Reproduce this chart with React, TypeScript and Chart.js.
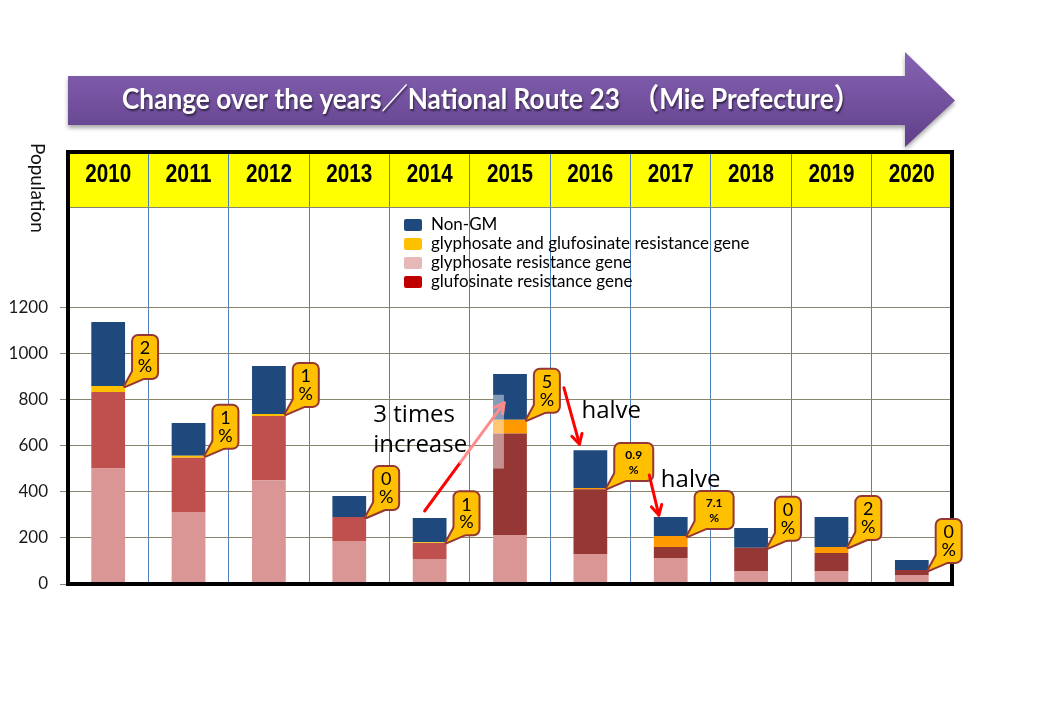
import React, { useEffect, useRef } from 'react';
import { Chart, registerables } from 'chart.js';

Chart.register(...registerables);

// ---------- data ----------
const years = ['2010', '2011', '2012', '2013', '2014', '2015', '2016', '2017', '2018', '2019', '2020'];
const glyphosateResistant = [500, 312, 450, 186, 108, 212, 130, 113, 56, 56, 39];
const glufosinateResistant = [332, 235, 278, 104, 70, 440, 281, 47, 101, 78, 22];
const bothResistant = [26, 9, 9, 0, 3, 60, 5, 48, 0, 26, 0];
const nonGM = [277, 142, 208, 91, 105, 198, 164, 82, 86, 130, 43];
const bothPercentLabels = ['2', '1', '1', '0', '1', '5', '0.9', '7.1', '0', '2', '0'];
const yTickValues = [0, 200, 400, 600, 800, 1000, 1200];
const legendLabels = [
  'Non-GM',
  'glyphosate and glufosinate resistance gene',
  'glyphosate resistance gene',
  'glufosinate resistance gene',
];
const titleText = 'Change over the years／National Route 23　（Mie Prefecture）';
const yAxisTitle = 'Population';
const increaseText = ['3 times', 'increase'];
const halveText = 'halve';
const ghostRange = [500, 820]; // faded overlay on 2015 bar (value range)

// ---------- styles ----------
const FONT = 'Lato, "Open Sans", "Noto Sans", sans-serif';
const NAVY = '#1f497d';
const PINK = '#d99694';
const RED_A = '#c0504d';
const RED_B = '#953735';
const YEL_A = '#ffc000';
const ORG_B = '#ff9900';
const legendColors = [NAVY, '#ffc000', '#e6b9b8', '#c00000'];

function drawArrowHead(ctx: CanvasRenderingContext2D, x1: number, y1: number, x2: number, y2: number, color: string) {
  const a = Math.atan2(y2 - y1, x2 - x1);
  const L = 11;
  const s = 0.5;
  ctx.strokeStyle = color;
  ctx.beginPath();
  ctx.moveTo(x2 - L * Math.cos(a - s), y2 - L * Math.sin(a - s));
  ctx.lineTo(x2, y2);
  ctx.lineTo(x2 - L * Math.cos(a + s), y2 - L * Math.sin(a + s));
  ctx.stroke();
}

export default function App() {
  const ref = useRef<HTMLCanvasElement>(null);

  useEffect(() => {
    const canvas = ref.current;
    if (!canvas) return;

    const decor = {
      id: 'decor',
      beforeDraw(chart: any) {
        const ctx: CanvasRenderingContext2D = chart.ctx;
        const ca = chart.chartArea;
        ctx.save();
        ctx.fillStyle = '#ffffff';
        ctx.fillRect(0, 0, chart.width, chart.height);

        // Title arrow
        const bodyTop = ca.top - 76;
        const bodyBot = ca.top - 27;
        const headBase = ca.right - 47;
        const tipX = ca.right + 3;
        const midY = (bodyTop + bodyBot) / 2;
        const grad = ctx.createLinearGradient(0, ca.top - 100, 0, ca.top - 5);
        grad.addColorStop(0, '#8563b2');
        grad.addColorStop(0.5, '#7452a0');
        grad.addColorStop(1, '#5f3f88');
        ctx.shadowColor = 'rgba(0,0,0,0.35)';
        ctx.shadowBlur = 4;
        ctx.shadowOffsetY = 3;
        ctx.fillStyle = grad;
        ctx.beginPath();
        ctx.moveTo(ca.left, bodyTop);
        ctx.lineTo(headBase, bodyTop);
        ctx.lineTo(headBase, ca.top - 100);
        ctx.lineTo(tipX, midY);
        ctx.lineTo(headBase, ca.top - 5);
        ctx.lineTo(headBase, bodyBot);
        ctx.lineTo(ca.left, bodyBot);
        ctx.closePath();
        ctx.fill();

        // Title text
        ctx.font = `bold 29px "Liberation Sans Narrow", ${FONT}, "Noto Sans CJK JP"`;
        const tw = ctx.measureText(titleText).width;
        const target = 738;
        ctx.shadowColor = 'rgba(0,0,0,0.55)';
        ctx.shadowBlur = 2;
        ctx.shadowOffsetX = 1;
        ctx.shadowOffsetY = 2;
        ctx.fillStyle = '#ffffff';
        ctx.textAlign = 'left';
        ctx.textBaseline = 'alphabetic';
        ctx.translate(ca.left + 54, ca.top - 43);
        ctx.scale(target / tw, 1);
        ctx.fillText(titleText, 0, 0);
        ctx.restore();

        // Yellow header band
        ctx.save();
        ctx.fillStyle = '#ffff00';
        ctx.fillRect(ca.left, ca.top, ca.width, 55);
        // y-axis title (rotated clockwise)
        ctx.translate(ca.left - 31, ca.top - 9);
        ctx.rotate(Math.PI / 2);
        ctx.font = `19px ${FONT}`;
        ctx.fillStyle = '#111';
        ctx.textAlign = 'left';
        ctx.textBaseline = 'middle';
        ctx.fillText(yAxisTitle, 0, 0);
        ctx.restore();
      },
      beforeDatasetsDraw(chart: any) {
        const ctx: CanvasRenderingContext2D = chart.ctx;
        const ca = chart.chartArea;
        const xs = chart.scales.x;
        ctx.save();
        ctx.strokeStyle = '#86866e';
        ctx.lineWidth = 1;
        ctx.beginPath();
        ctx.moveTo(ca.left, ca.top + 55.5);
        ctx.lineTo(ca.right, ca.top + 55.5);
        ctx.stroke();
        ctx.font = `bold 25px "Liberation Sans Narrow", "Liberation Sans", Arial`;
        ctx.fillStyle = '#000';
        ctx.textAlign = 'center';
        ctx.textBaseline = 'middle';
        years.forEach((yr, i) => {
          const x = xs.getPixelForValue(i);
          const w = ctx.measureText(yr).width;
          ctx.save();
          ctx.translate(x, ca.top + 23);
          ctx.scale(46 / w, 1);
          ctx.fillText(yr, 0, 0);
          ctx.restore();
        });
        ctx.restore();
      },
      afterDatasetsDraw(chart: any) {
        const ctx: CanvasRenderingContext2D = chart.ctx;
        const ca = chart.chartArea;
        const ys = chart.scales.y;
        const barsBottom = chart.getDatasetMeta(0).data;
        const totals = years.map((_, i) => glyphosateResistant[i] + glufosinateResistant[i] + bothResistant[i] + nonGM[i]);
        ctx.save();

        // Ghost overlay on the 2015 bar
        {
          const b = barsBottom[5];
          const left = b.x - b.width / 2;
          const t = ys.getPixelForValue(ghostRange[1]);
          const bt = ys.getPixelForValue(ghostRange[0]);
          ctx.fillStyle = 'rgba(255,255,255,0.45)';
          ctx.fillRect(left, t, b.width * 0.32, bt - t);
        }

        // Frame
        ctx.strokeStyle = '#000';
        ctx.lineWidth = 4;
        ctx.strokeRect(ca.left, ca.top, ca.right - ca.left, ca.bottom - ca.top);

        // Legend
        ctx.font = `17px ${FONT}`;
        ctx.textAlign = 'left';
        ctx.textBaseline = 'middle';
        legendLabels.forEach((lab, i) => {
          const lx = ca.left + 336;
          const ly = ca.top + 73 + i * 19;
          ctx.fillStyle = legendColors[i];
          ctx.beginPath();
          ctx.roundRect(lx, ly - 6, 18, 12, 2);
          ctx.fill();
          ctx.fillStyle = '#000';
          ctx.fillText(lab, lx + 27, ly);
        });

        // Callouts
        const boxes: { l: number; t: number; r: number; b: number }[] = [];
        years.forEach((_, i) => {
          const b = barsBottom[i];
          const tipX = b.x + b.width / 2;
          const tipY = ys.getPixelForValue(glyphosateResistant[i] + glufosinateResistant[i] + bothResistant[i]);
          const label = bothPercentLabels[i];
          const small = label.length > 1;
          const w = small ? 37 : 24;
          const h = small ? 36 : 42;
          const l = tipX + 8;
          const bt = tipY - 8;
          const t = bt - h;
          boxes.push({ l, t, r: l + w, b: bt });
          const wedge = () => {
            ctx.beginPath();
            ctx.moveTo(l + 3, bt - 12);
            ctx.lineTo(tipX, tipY);
            ctx.lineTo(l + 13, bt - 1);
            ctx.closePath();
          };
          const box = () => {
            ctx.beginPath();
            ctx.roundRect(l, t, w, h, 5);
          };
          ctx.strokeStyle = RED_B;
          ctx.lineWidth = 4;
          ctx.lineJoin = 'round';
          wedge(); ctx.stroke();
          box(); ctx.stroke();
          ctx.fillStyle = '#ffc000';
          wedge(); ctx.fill();
          box(); ctx.fill();
          ctx.fillStyle = '#000';
          ctx.textAlign = 'center';
          ctx.textBaseline = 'middle';
          ctx.font = small ? `bold 12px ${FONT}` : `18px ${FONT}`;
          ctx.fillText(label, l + w / 2, t + h * 0.3);
          ctx.fillText('%', l + w / 2, t + h * 0.72);
        });

        // Arrows & annotation text
        ctx.lineWidth = 3;
        ctx.lineCap = 'round';
        // 2014 -> 2015 "3 times increase"
        {
          const b14 = barsBottom[4];
          const b15 = barsBottom[5];
          const sx = b14.x - 5;
          const sy = ys.getPixelForValue(totals[4]) - 7;
          const ex = b15.x - b15.width / 2 + 11;
          const ey = ys.getPixelForValue(785);
          const mx = sx + (ex - sx) * 0.45;
          const my = sy + (ey - sy) * 0.45;
          ctx.strokeStyle = '#ff0000';
          ctx.beginPath(); ctx.moveTo(sx, sy); ctx.lineTo(mx, my); ctx.stroke();
          ctx.strokeStyle = '#ff8c8c';
          ctx.beginPath(); ctx.moveTo(mx, my); ctx.lineTo(ex, ey); ctx.stroke();
          drawArrowHead(ctx, sx, sy, ex, ey, '#ff8c8c');
          ctx.fillStyle = '#000';
          ctx.font = `24px "Open Sans", ${FONT}`;
          ctx.textAlign = 'left';
          ctx.textBaseline = 'alphabetic';
          const w2 = ctx.measureText(increaseText[1]).width;
          const tx = ex - 37 - w2;
          ctx.fillText(increaseText[0], tx, ey + 19);
          ctx.fillText(increaseText[1], tx, ey + 49);
        }
        // 2015 -> 2016 "halve"
        {
          const bx = boxes[5];
          const b16 = barsBottom[6];
          const sx = bx.r + 5;
          const sy = bx.t + 18;
          const ex = b16.x - b16.width / 2 + 6;
          const ey = ys.getPixelForValue(totals[6]) - 6;
          ctx.strokeStyle = '#ff0000';
          ctx.beginPath(); ctx.moveTo(sx, sy); ctx.lineTo(ex, ey); ctx.stroke();
          drawArrowHead(ctx, sx, sy, ex, ey, '#ff0000');
          ctx.fillStyle = '#000';
          ctx.font = `24px "Open Sans", ${FONT}`;
          ctx.fillText(halveText, b16.x - b16.width / 2 + 8, ys.getPixelForValue(totals[6]) - 32);
        }
        // 2016 -> 2017 "halve"
        {
          const bx = boxes[6];
          const b17 = barsBottom[7];
          const sx = bx.r - 3;
          const sy = bx.b - 5;
          const ex = b17.x - b17.width / 2 + 5;
          const ey = ys.getPixelForValue(totals[7]) - 2;
          ctx.strokeStyle = '#ff0000';
          ctx.beginPath(); ctx.moveTo(sx, sy); ctx.lineTo(ex, ey); ctx.stroke();
          drawArrowHead(ctx, sx, sy, ex, ey, '#ff0000');
          ctx.fillStyle = '#000';
          ctx.font = `24px "Open Sans", ${FONT}`;
          ctx.fillText(halveText, b17.x - b17.width / 2 + 7, ys.getPixelForValue(totals[7]) - 30);
        }
        ctx.restore();
      },
    };

    const chart = new Chart(canvas, {
      type: 'bar',
      data: {
        labels: years,
        datasets: [
          { label: legendLabels[2], data: glyphosateResistant, backgroundColor: PINK },
          { label: legendLabels[3], data: glufosinateResistant, backgroundColor: years.map((_, i) => (i < 5 ? RED_A : RED_B)) },
          { label: legendLabels[1], data: bothResistant, backgroundColor: years.map((_, i) => (i < 5 ? YEL_A : ORG_B)) },
          { label: legendLabels[0], data: nonGM, backgroundColor: NAVY },
        ],
      },
      options: {
        responsive: false,
        animation: false,
        devicePixelRatio: 1,
        layout: { padding: { left: 0, top: 152, right: 88, bottom: 136 } },
        datasets: { bar: { categoryPercentage: 1, barPercentage: 0.42 } },
        plugins: { legend: { display: false }, tooltip: { enabled: false }, title: { display: false } },
        scales: {
          x: {
            stacked: true,
            offset: true,
            grid: { offset: true, color: '#4f81bd', lineWidth: 1, drawTicks: false },
            border: { display: false },
            ticks: { display: false },
            afterFit(s: any) { s.height = 0; },
          },
          y: {
            stacked: true,
            min: 0,
            max: 1872,
            ticks: {
              stepSize: 200,
              padding: 12,
              color: '#1a1a1a',
              font: { family: FONT, size: 17 },
              callback: (v: any) => String(v),
            },
            grid: { color: '#86866e', tickLength: 8, drawTicks: true },
            border: { display: false },
            afterBuildTicks(s: any) { s.ticks = yTickValues.map((v) => ({ value: v })); },
            afterFit(s: any) { s.width = 68; },
          },
        },
      },
      plugins: [decor],
    } as any);

    return () => chart.destroy();
  }, []);

  return (
    <div style={{ position: 'absolute', left: 0, top: 0, width: 1040, height: 720, background: '#fff' }}>
      <canvas ref={ref} width={1040} height={720} style={{ width: 1040, height: 720, display: 'block' }} />
    </div>
  );
}
